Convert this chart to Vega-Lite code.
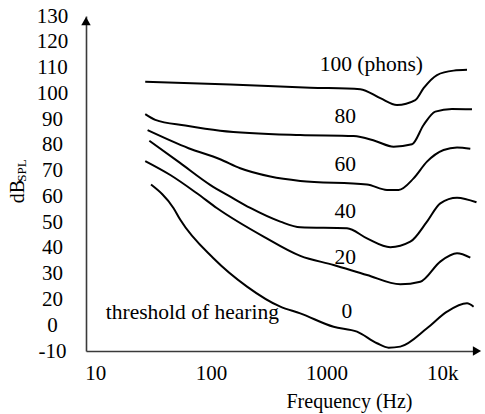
{
  "$schema": "https://vega.github.io/schema/vega-lite/v6.json",
  "autosize": {"type": "none"},
  "padding": {"left": 86, "top": 16, "right": 8, "bottom": 63},
  "width": 391,
  "height": 335,
  "background": "white",
  "config": {
    "view": {"stroke": null},
    "font": "Liberation Serif",
    "axis": {"grid": false, "ticks": false, "tickSize": 0, "domainColor": "#3a3a3a", "domainWidth": 1.6, "labelFont": "Liberation Serif", "titleFont": "Liberation Serif", "labelColor": "black", "titleColor": "black", "labelFontSize": 21, "titleFontSize": 20, "titleFontWeight": "normal", "labelOverlap": false, "labelBound": false, "labelFlush": false}
  },
  "datasets": {
    "curves": [
      {"phon": 100, "f": 27, "db": 104.5},
      {"phon": 100, "f": 147, "db": 103.4},
      {"phon": 100, "f": 723, "db": 102.2},
      {"phon": 100, "f": 1956, "db": 101.6},
      {"phon": 100, "f": 2914, "db": 98.1},
      {"phon": 100, "f": 4064, "db": 95.5},
      {"phon": 100, "f": 5852, "db": 97.4},
      {"phon": 100, "f": 6904, "db": 102.0},
      {"phon": 100, "f": 9016, "db": 107.1},
      {"phon": 100, "f": 12550, "db": 108.8},
      {"phon": 100, "f": 16390, "db": 109.1},
      {"phon": 80, "f": 27, "db": 91.9},
      {"phon": 80, "f": 33, "db": 89.7},
      {"phon": 80, "f": 60, "db": 87.5},
      {"phon": 80, "f": 120, "db": 85.5},
      {"phon": 80, "f": 592, "db": 83.8},
      {"phon": 80, "f": 1712, "db": 83.4},
      {"phon": 80, "f": 2638, "db": 81.5},
      {"phon": 80, "f": 3798, "db": 79.3},
      {"phon": 80, "f": 5480, "db": 80.2},
      {"phon": 80, "f": 6904, "db": 87.7},
      {"phon": 80, "f": 8716, "db": 92.9},
      {"phon": 80, "f": 12155, "db": 93.9},
      {"phon": 80, "f": 18100, "db": 93.8},
      {"phon": 60, "f": 28.3, "db": 85.7},
      {"phon": 60, "f": 64, "db": 78.7},
      {"phon": 60, "f": 120, "db": 74.4},
      {"phon": 60, "f": 179, "db": 70.9},
      {"phon": 60, "f": 326, "db": 67.7},
      {"phon": 60, "f": 592, "db": 66.0},
      {"phon": 60, "f": 2236, "db": 64.6},
      {"phon": 60, "f": 3330, "db": 62.5},
      {"phon": 60, "f": 4196, "db": 62.5},
      {"phon": 60, "f": 5656, "db": 67.0},
      {"phon": 60, "f": 7387, "db": 73.5},
      {"phon": 60, "f": 10283, "db": 78.0},
      {"phon": 60, "f": 13430, "db": 79.0},
      {"phon": 60, "f": 17505, "db": 78.5},
      {"phon": 40, "f": 29.3, "db": 81.6},
      {"phon": 40, "f": 54, "db": 73.0},
      {"phon": 40, "f": 99, "db": 64.4},
      {"phon": 40, "f": 147, "db": 59.9},
      {"phon": 40, "f": 219, "db": 55.5},
      {"phon": 40, "f": 398, "db": 50.2},
      {"phon": 40, "f": 592, "db": 48.0},
      {"phon": 40, "f": 1501, "db": 47.6},
      {"phon": 40, "f": 2236, "db": 43.7},
      {"phon": 40, "f": 3556, "db": 40.3},
      {"phon": 40, "f": 5297, "db": 42.4},
      {"phon": 40, "f": 7387, "db": 50.2},
      {"phon": 40, "f": 9630, "db": 57.3},
      {"phon": 40, "f": 13430, "db": 59.5},
      {"phon": 40, "f": 19800, "db": 57.7},
      {"phon": 20, "f": 27, "db": 73.7},
      {"phon": 20, "f": 44.5, "db": 68.3},
      {"phon": 20, "f": 75.6, "db": 61.2},
      {"phon": 20, "f": 113, "db": 55.4},
      {"phon": 20, "f": 285, "db": 44.4},
      {"phon": 20, "f": 592, "db": 36.9},
      {"phon": 20, "f": 1150, "db": 33.4},
      {"phon": 20, "f": 2236, "db": 29.5},
      {"phon": 20, "f": 4341, "db": 25.9},
      {"phon": 20, "f": 6464, "db": 26.9},
      {"phon": 20, "f": 9630, "db": 34.7},
      {"phon": 20, "f": 13430, "db": 37.9},
      {"phon": 20, "f": 17505, "db": 36.2},
      {"phon": 0, "f": 30.3, "db": 64.6},
      {"phon": 0, "f": 47.5, "db": 55.4},
      {"phon": 0, "f": 54.3, "db": 50.9},
      {"phon": 0, "f": 105, "db": 36.0},
      {"phon": 0, "f": 205, "db": 25.0},
      {"phon": 0, "f": 398, "db": 14.4},
      {"phon": 0, "f": 592, "db": 9.2},
      {"phon": 0, "f": 1150, "db": -0.6},
      {"phon": 0, "f": 1832, "db": -2.5},
      {"phon": 0, "f": 2729, "db": -7.0},
      {"phon": 0, "f": 3439, "db": -8.7},
      {"phon": 0, "f": 4341, "db": -8.3},
      {"phon": 0, "f": 7387, "db": -1.2},
      {"phon": 0, "f": 11002, "db": 10.5},
      {"phon": 0, "f": 16390, "db": 17.0},
      {"phon": 0, "f": 18690, "db": 14.4}
    ],
    "labels": [
      {"text": "100 (phons)", "f": 2436, "db": 111.0},
      {"text": "80", "f": 1451, "db": 90.9},
      {"text": "60", "f": 1451, "db": 72.2},
      {"text": "40", "f": 1451, "db": 54.1},
      {"text": "20", "f": 1451, "db": 36.0},
      {"text": "0", "f": 1501, "db": 10.5},
      {"text": "threshold of hearing", "f": 69, "db": 9.5}
    ]
  },
  "layer": [
    {
      "data": {"name": "curves"},
      "mark": {"type": "line", "interpolate": "monotone", "color": "black", "strokeWidth": 2},
      "encoding": {
        "x": {"field": "f", "type": "quantitative",
              "scale": {"type": "log", "domain": [8.3, 20000], "nice": false},
              "axis": {"values": [10, 100, 1000, 10000], "tickCount": 10, "format": "d", "labelExpr": "datum.value == 10000 ? '10k' : datum.label", "labelPadding": 11, "labelOverlap": false, "title": "Frequency (Hz)", "titleX": 263, "titleY": 40, "titleBaseline": "top"}},
        "y": {"field": "db", "type": "quantitative",
              "scale": {"type": "linear", "domain": [-10, 0, 20, 130], "range": [335, 309.23, 283.46, 0], "zero": false, "nice": false},
              "axis": {"values": [-10, 0, 20, 30, 40, 50, 60, 70, 80, 90, 100, 110, 120, 130], "tickCount": 30, "labelExpr": "datum.value < 0 ? '-' + abs(datum.value) : '' + datum.value", "labelAlign": "center", "labelBaseline": "middle", "labelPadding": 34, "labelOverlap": false, "title": "dB", "titleAngle": 270, "titleAlign": "center", "titleBaseline": "middle", "titleX": -69, "titleY": 175}},
        "detail": {"field": "phon", "type": "nominal"}
      }
    },
    {
      "data": {"name": "labels"},
      "mark": {"type": "text", "font": "Liberation Serif", "fontSize": 21.5, "color": "black", "align": "center", "baseline": "middle"},
      "encoding": {
        "x": {"field": "f", "type": "quantitative"},
        "y": {"field": "db", "type": "quantitative"},
        "text": {"field": "text"}
      }
    },
    {
      "data": {"values": [{}]},
      "mark": {"type": "text", "font": "Liberation Serif", "fontSize": 13, "color": "black", "angle": 270, "align": "center", "baseline": "middle", "clip": false},
      "encoding": {
        "x": {"datum": 2.3},
        "y": {"datum": 70},
        "text": {"value": "SPL"}
      }
    },
    {
      "data": {"values": [{}]},
      "mark": {"type": "point", "shape": "triangle-up", "filled": true, "color": "black", "size": 90, "opacity": 1, "clip": false},
      "encoding": {"x": {"datum": 8.3}, "y": {"datum": 128}}
    },
    {
      "data": {"values": [{}]},
      "mark": {"type": "point", "shape": "triangle-right", "filled": true, "color": "black", "size": 90, "opacity": 1, "clip": false},
      "encoding": {"x": {"datum": 20000}, "y": {"datum": -10}}
    }
  ]
}
